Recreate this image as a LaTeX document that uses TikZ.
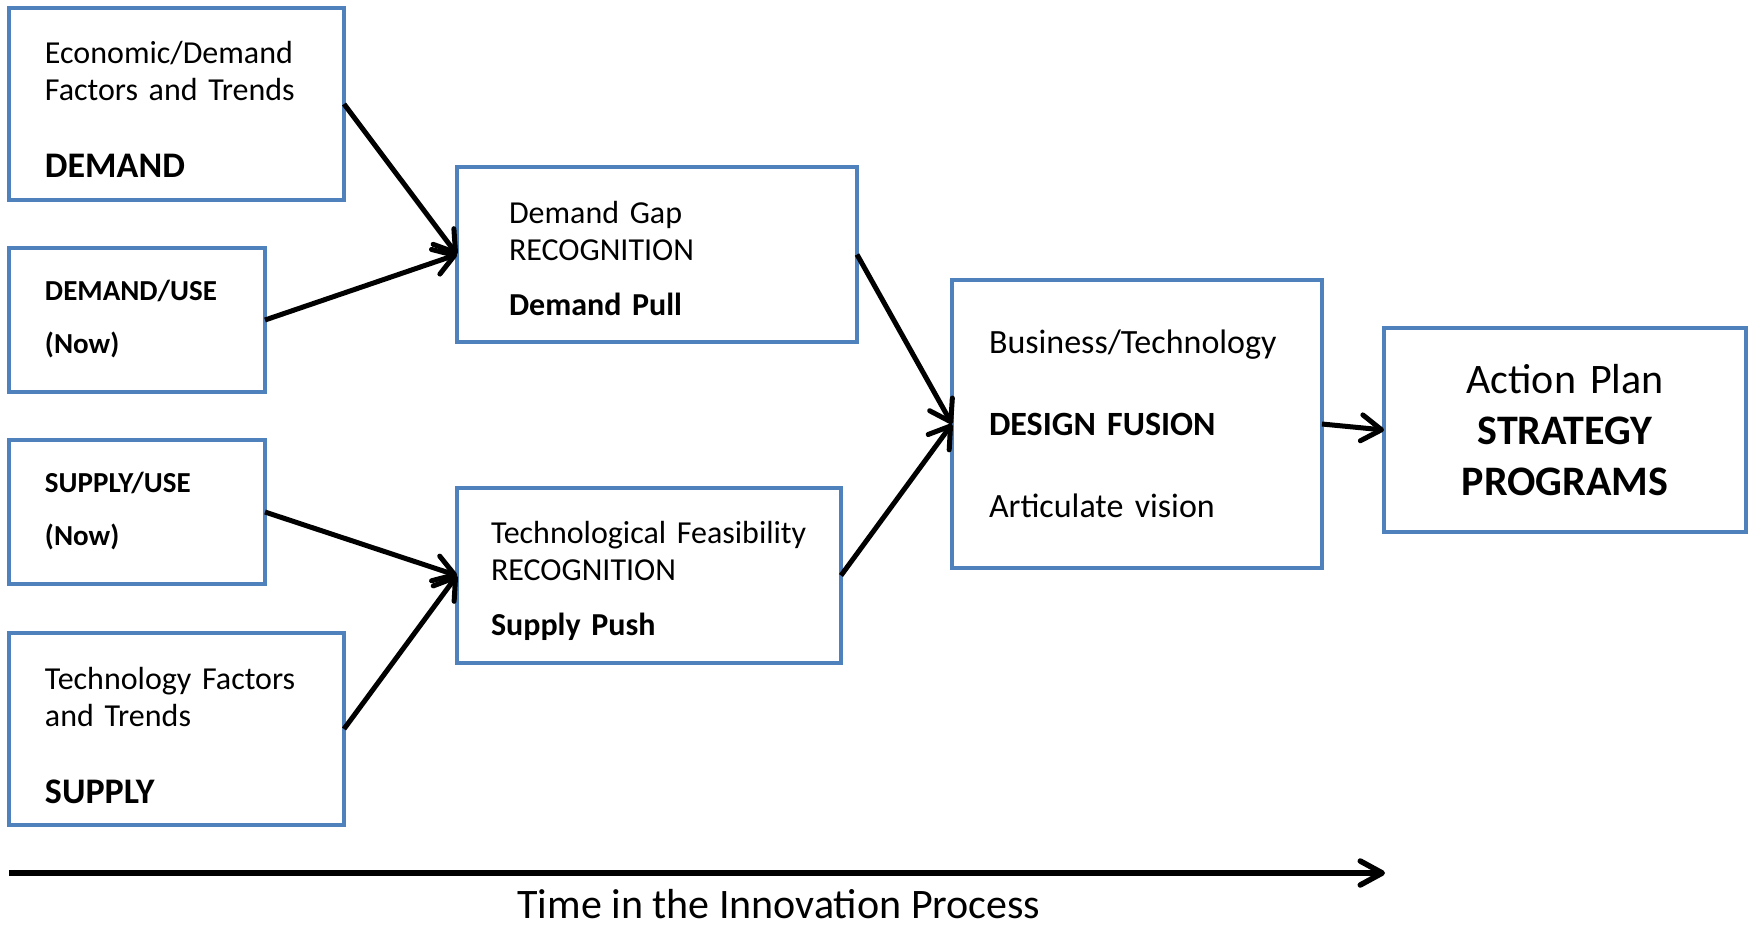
\documentclass[tikz,border=0pt]{standalone}
\usepackage{fontspec}
\setmainfont{Carlito}
\usetikzlibrary{positioning, arrows.meta}

\definecolor{boxblue}{RGB}{79,129,189}

\begin{document}
\begin{tikzpicture}[
    x=0.5pt, y=-0.5pt,
    box/.style={rectangle, draw=boxblue, line width=2pt, anchor=north west,
        inner xsep=18pt, inner ysep=0pt, outer sep=0pt, align=left,
        font=\fontsize{16}{18.5}\selectfont},
    factor/.style={box, text width=131.5pt, text height=27.5pt, text depth=68.5pt},
    usebox/.style={box, text width=92pt, text height=26pt, text depth=46pt},
    flow/.style={-{Straight Barb[length=10pt, width=13pt, round]}, line width=2.5pt},
    timeline/.style={-{Straight Barb[length=11pt, width=12pt, round]}, line width=2.75pt}
]
\useasboundingbox (0,0) rectangle (1752,927);

% Left column: demand and supply inputs
\node[factor] (econ) at (9,8)
    {Economic/Demand\\Factors and Trends\\[20pt]{\bfseries\fontsize{18}{21}\selectfont DEMAND}};
\node[usebox, below right=24pt and 0pt of econ.south west] (demuse)
    {\bfseries\fontsize{14.5}{18.5}\selectfont DEMAND/USE\\[8pt](Now)};
\node[usebox, below right=24pt and 0pt of demuse.south west] (supuse)
    {\bfseries\fontsize{14.5}{18.5}\selectfont SUPPLY/USE\\[8pt](Now)};
\node[factor, text height=28pt, text depth=68pt, below right=24.5pt and 0pt of supuse.south west] (techf)
    {Technology Factors\\and Trends\\[20pt]{\bfseries\fontsize{18}{21}\selectfont SUPPLY}};

% Recognition stage
\node[box, inner xsep=26pt, text width=148pt, text height=28pt, text depth=59.5pt] (gap) at (457,167)
    {Demand Gap\\RECOGNITION\\[9pt]\textbf{Demand Pull}};
\node[box, inner xsep=17pt, text width=158pt, text height=27.5pt, text depth=60pt] (feas) at (457,488)
    {Technological~Feasibility\\RECOGNITION\\[9pt]\textbf{Supply Push}};

% Fusion and outcome
\node[box, inner xsep=18.5pt, text width=148pt, text height=36.5pt, text depth=107.5pt,
      font=\fontsize{17}{20.5}\selectfont] (fusion) at (952,280)
    {Business/Technology\\[20.5pt]\textbf{DESIGN FUSION}\\[20.5pt]Articulate vision};
\node[box, align=center, inner xsep=10pt, text width=161pt, text height=32.5pt, text depth=69.5pt,
      font=\fontsize{21}{25.5}\selectfont] (plan) at (1384,328)
    {Action Plan\\\textbf{STRATEGY}\\\textbf{PROGRAMS}};

% Connectors
\draw[flow] (econ.east) -- (gap.west);
\draw[flow] (demuse.east) -- (gap.west);
\draw[flow] (supuse.east) -- (feas.west);
\draw[flow] (techf.east) -- (feas.west);
\draw[flow] (gap.east) -- (fusion.west);
\draw[flow] (feas.east) -- (fusion.west);
\draw[flow] (fusion.east) -- (plan.west);

% Time axis
\coordinate (tstart) at (9,873);
\coordinate (tend) at (1385,873);
\draw[timeline] (tstart) -- (tend);
\node[anchor=base, inner sep=0pt, font=\fontsize{21}{25}\selectfont] (timelbl) at (779,918)
    {Time in the Innovation Process};

\end{tikzpicture}
\end{document}
